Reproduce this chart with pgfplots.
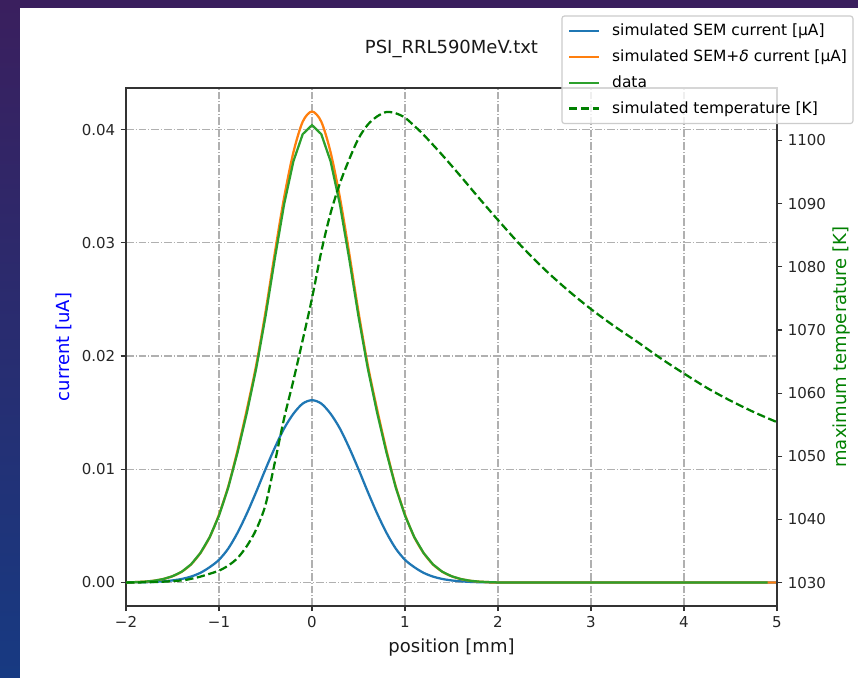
\documentclass[border=0pt]{standalone}
\usepackage{fontspec}
\setmainfont{DejaVu Sans}
\usepackage{pgfplots}
\usepackage{pgfplotstable}
\pgfplotsset{compat=1.18}

\definecolor{tabblue}{HTML}{1F77B4}
\definecolor{taborange}{HTML}{FF7F0E}
\definecolor{tabgreen}{HTML}{2CA02C}
\definecolor{mplgreen}{HTML}{008000}
\definecolor{gridgray}{HTML}{B0B0B0}
\definecolor{legendedge}{HTML}{CCCCCC}
\definecolor{bgtop}{HTML}{3A1F5E}
\definecolor{bgbottom}{HTML}{173A82}

% simulated SEM current [uA]
\pgfplotstableread{
x y
-2.0 0.0
-1.9 0.00001
-1.8 0.00002
-1.7 0.00005
-1.6 0.0001
-1.5 0.00018
-1.4 0.00031
-1.3 0.00052
-1.2 0.00085
-1.1 0.00135
-1.0 0.0020
-0.9 0.0030
-0.8 0.0044
-0.7 0.0061
-0.6 0.0080
-0.5 0.0100
-0.4 0.0119
-0.3 0.0136
-0.2 0.0149
-0.1 0.0158
0.0 0.0161
0.1 0.0158
0.2 0.0149
0.3 0.0136
0.4 0.0119
0.5 0.0100
0.6 0.0080
0.7 0.0061
0.8 0.0044
0.9 0.0030
1.0 0.0020
1.1 0.00135
1.2 0.00085
1.3 0.00052
1.4 0.00031
1.5 0.00018
1.6 0.0001
1.7 0.00005
1.8 0.00002
1.9 0.00001
2.0 0.0
3.0 0.0
4.0 0.0
5.0 0.0
}\semcurrent

% simulated SEM+delta current [uA]
\pgfplotstableread{
x y
-2.0 0.0
-1.9 0.00003
-1.8 0.00007
-1.7 0.00015
-1.6 0.0003
-1.5 0.00055
-1.4 0.00095
-1.3 0.0016
-1.2 0.0026
-1.1 0.0040
-1.0 0.0060
-0.9 0.0085
-0.8 0.0117
-0.7 0.0153
-0.6 0.0192
-0.5 0.0239
-0.4 0.0291
-0.3 0.0340
-0.2 0.0380
-0.1 0.0407
0.0 0.0416
0.1 0.0407
0.2 0.0380
0.3 0.0340
0.4 0.0291
0.5 0.0239
0.6 0.0192
0.7 0.0153
0.8 0.0117
0.9 0.0085
1.0 0.0060
1.1 0.0040
1.2 0.0026
1.3 0.0016
1.4 0.00095
1.5 0.00055
1.6 0.0003
1.7 0.00015
1.8 0.00007
1.9 0.00003
2.0 0.0
3.0 0.0
4.0 0.0
5.0 0.0
}\semdelta

% measured current [uA]
\pgfplotstableread{
x y
-2.0 0.0
-1.9 0.00003
-1.8 0.00007
-1.7 0.00015
-1.6 0.0003
-1.5 0.00055
-1.4 0.00095
-1.3 0.0016
-1.2 0.0026
-1.1 0.0040
-1.0 0.0059
-0.9 0.0084
-0.8 0.0115
-0.7 0.0150
-0.6 0.0189
-0.5 0.0235
-0.4 0.0286
-0.3 0.0334
-0.2 0.0372
-0.1 0.0396
0.0 0.0404
0.1 0.0396
0.2 0.0372
0.3 0.0334
0.4 0.0286
0.5 0.0235
0.6 0.0189
0.7 0.0150
0.8 0.0115
0.9 0.0084
1.0 0.0059
1.1 0.0040
1.2 0.0026
1.3 0.0016
1.4 0.00095
1.5 0.00055
1.6 0.0003
1.7 0.00015
1.8 0.00007
1.9 0.00003
2.0 0.0
3.0 0.0
4.0 0.0
4.9 0.0
}\measured

% simulated maximum temperature [K]
\pgfplotstableread{
x y
-2.0 1030.0
-1.8 1030.05
-1.6 1030.15
-1.4 1030.35
-1.3 1030.6
-1.2 1030.95
-1.1 1031.4
-1.0 1031.9
-0.9 1032.7
-0.8 1033.9
-0.7 1035.8
-0.6 1038.4
-0.5 1042.3
-0.4 1049.0
-0.3 1056.0
-0.2 1062.0
-0.1 1068.4
0.0 1075.0
0.1 1082.4
0.2 1088.5
0.3 1093.2
0.4 1097.0
0.5 1100.3
0.6 1102.5
0.7 1103.8
0.8 1104.5
0.9 1104.3
1.0 1103.6
1.1 1102.3
1.2 1100.9
1.4 1097.7
1.6 1094.3
1.8 1090.8
2.0 1087.4
2.25 1083.3
2.5 1079.6
2.75 1076.3
3.0 1073.3
3.25 1070.6
3.5 1068.1
3.75 1065.5
4.0 1063.1
4.25 1060.8
4.5 1058.8
4.75 1057.0
5.0 1055.4
}\temperature

\pgfplotsset{
  panel/.style={
    at={(94.5pt,54pt)}, anchor=south west,
    width=488.25pt, height=388.5pt, scale only axis,
    xmin=-2, xmax=5,
    scaled y ticks=false, scaled x ticks=false,
    tick align=outside,
    major tick length=3.94pt,
    axis line style={black!80, line width=0.9pt},
    tick style={black!80, line width=0.9pt},
    ticklabel style={font=\fontsize{11.25}{13}\selectfont, text=black!85, inner sep=0pt},
    /pgf/number format/assume math mode=true,
    label style={font=\fontsize{13.5}{16}\selectfont, inner sep=0pt,
      text height=0.928em, text depth=0.236em},
  },
  curve/.style={line width=1.69pt},
}

\begin{document}
\begin{tikzpicture}
  \shade[top color=bgtop, bottom color=bgbottom] (0,0) rectangle (643.5pt,508.5pt);
  \fill[white] (15pt,0) rectangle (643.5pt,502.5pt);
  \useasboundingbox (0,0) rectangle (643.5pt,508.5pt);

  \begin{axis}[
    panel,
    ymin=-0.00208, ymax=0.04368,
    xtick={-2,-1,0,1,2,3,4,5},
    xticklabels={−2,−1,0,1,2,3,4,5},
    ytick={0,0.01,0.02,0.03,0.04},
    yticklabels={0.00,0.01,0.02,0.03,0.04},
    xtick pos=left, ytick pos=left,
    xticklabel style={anchor=base, yshift=-12.1pt},
    yticklabel style={anchor=east, xshift=-3.94pt},
    xmajorgrids, ymajorgrids,
    grid style={gridgray, line width=0.9pt,
      dash pattern=on 5.7pt off 1.45pt on 0.9pt off 1.45pt},
    title={PSI\_RRL590MeV.txt},
    title style={at={(axis description cs:0.5,1)}, anchor=base,
      yshift=19.5pt, inner sep=0pt, font=\fontsize{13.5}{16}\selectfont, text=black!90},
    xlabel={position [mm]},
    xlabel style={at={(axis description cs:0.5,0)}, anchor=base,
      yshift=-35.25pt, text height=, text depth=, text=black!90},
    ylabel={current [uA]},
    ylabel style={at={(axis description cs:-0.0937,0.5)}, anchor=center, text=blue},
  ]
    \addplot[curve, tabblue, smooth] table {\semcurrent};
    \addplot[curve, taborange, smooth] table {\semdelta};
    \addplot[curve, tabgreen] table {\measured};
  \end{axis}

  \begin{axis}[
    panel,
    ymin=1026.3, ymax=1108.3,
    axis x line=none, axis y line*=right,
    ytick={1030,1040,1050,1060,1070,1080,1090,1100},
    yticklabels={1030,1040,1050,1060,1070,1080,1090,1100},
    yticklabel style={anchor=west, xshift=3.94pt},
    ylabel={maximum temperature [K]},
    ylabel style={at={(axis description cs:1.1002,0.5)}, anchor=center, text=mplgreen},
    legend cell align=left,
    legend image code/.code={\draw[#1] (0pt,0pt) -- (22.5pt,0pt);},
    legend style={
      at={(axis description cs:1.1167,1.1390)}, anchor=north east,
      draw=legendedge, line width=0.9pt, fill=white,
      fill opacity=0.8, draw opacity=1, text opacity=1,
      rounded corners=2pt, outer sep=0pt,
      inner xsep=4.5pt, inner ysep=5.5pt,
      row sep=7.7pt, column sep=9pt,
      font=\fontsize{11.6}{14}\selectfont,
      nodes={inner sep=0pt, text height=0.928em, text depth=0.236em},
    },
  ]
    \addlegendimage{curve, tabblue}
    \addlegendentry{simulated SEM current [μA]}
    \addlegendimage{curve, taborange}
    \addlegendentry{simulated SEM+\textit{δ} current [μA]}
    \addlegendimage{curve, tabgreen}
    \addlegendentry{data}
    \addplot[curve, mplgreen, smooth, dash pattern=on 6.2pt off 2.7pt] table {\temperature};
    \addlegendentry{simulated temperature [K]}
  \end{axis}
\end{tikzpicture}
\end{document}
